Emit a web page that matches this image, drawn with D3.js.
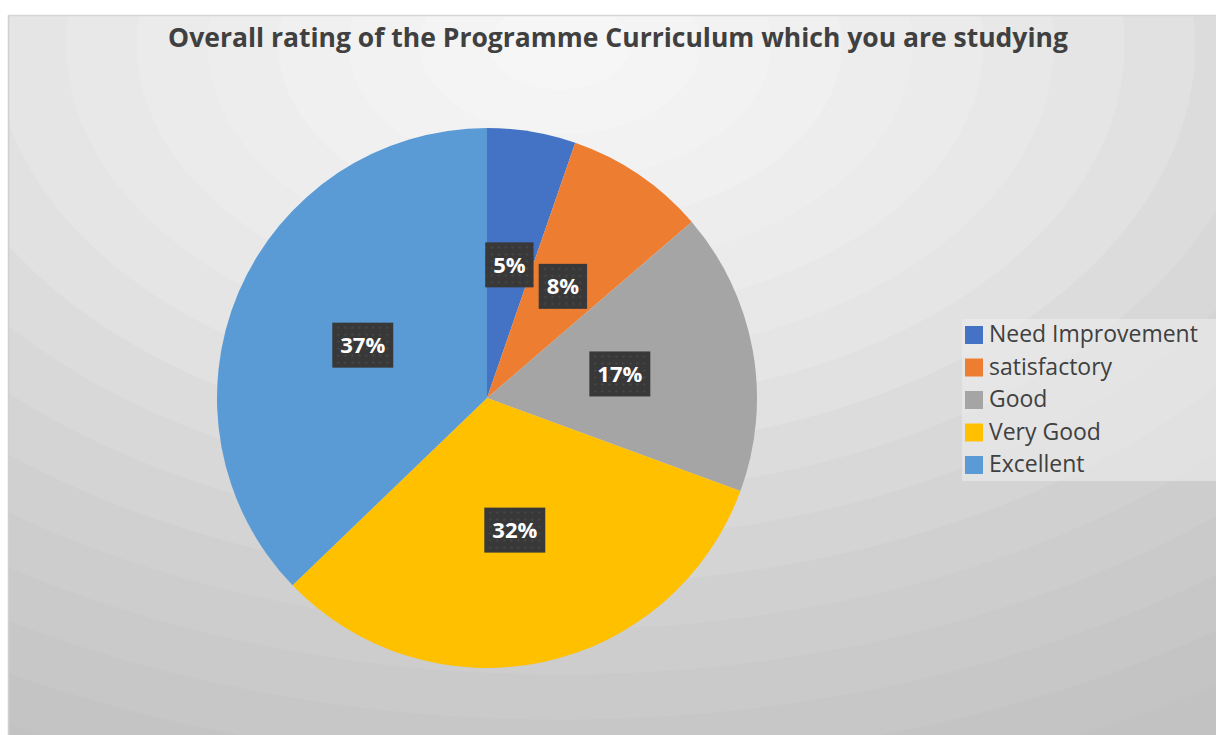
<!DOCTYPE html>
<html>
<head>
<meta charset="utf-8">
<script src="https://cdn.jsdelivr.net/npm/d3@7"></script>
<style>
  html, body { margin: 0; padding: 0; background: #ffffff; }
  svg { display: block; }
</style>
</head>
<body>
<svg id="chart" width="1216" height="735"></svg>
<script>
// ---- data ----
const categories = ["Need Improvement", "satisfactory", "Good", "Very Good", "Excellent"];
const values = [5.3, 8.4, 16.9, 32.2, 37.2];
const colors = ["#4472C4", "#ED7D31", "#A5A5A5", "#FFC000", "#5B9BD5"];
const title = "Overall rating of the Programme Curriculum which you are studying";

const W = 1216, H = 735;
const svg = d3.select("#chart");
const defs = svg.append("defs");

// background elliptical radial gradient with subtle banding
const keyStops = [
  [0, 247], [120, 242], [240, 235], [360, 227], [480, 215],
  [600, 205], [720, 197], [840, 191], [1000, 188]
];
const grayAt = d => {
  for (let i = 0; i < keyStops.length - 1; i++) {
    const a = keyStops[i], b = keyStops[i + 1];
    if (d <= b[0]) return a[1] + (b[1] - a[1]) * (d - a[0]) / (b[0] - a[0]);
  }
  return keyStops[keyStops.length - 1][1];
};
const bgR = 1000, step = 45;
const rg = defs.append("radialGradient").attr("id", "bg")
  .attr("gradientUnits", "userSpaceOnUse")
  .attr("cx", 0).attr("cy", 0).attr("r", bgR).attr("fx", 0).attr("fy", 0)
  .attr("gradientTransform", "translate(560,45) scale(1.57,1)");
for (let d = 0; d < bgR; d += step) {
  const v = Math.round(grayAt(d + step / 2));
  const c = d3.rgb(v, v, v).formatHex();
  rg.append("stop").attr("offset", d / bgR).attr("stop-color", c);
  rg.append("stop").attr("offset", Math.min(1, (d + step - 1) / bgR)).attr("stop-color", c);
}

// dotted pattern for label boxes
const pat = defs.append("pattern").attr("id", "dots")
  .attr("patternUnits", "userSpaceOnUse").attr("width", 7).attr("height", 7);
pat.append("rect").attr("width", 7).attr("height", 7).attr("fill", "#383838");
pat.append("circle").attr("cx", 3.5).attr("cy", 3.5).attr("r", 1.1).attr("fill", "#4a4a4a");

// chart area
svg.append("rect").attr("x", 8).attr("y", 15).attr("width", W - 8).attr("height", H - 15)
  .attr("fill", "url(#bg)");
svg.append("line").attr("x1", 8).attr("x2", W).attr("y1", 15.5).attr("y2", 15.5)
  .attr("stroke", "#d6d6d6").attr("stroke-width", 1.5);
svg.append("line").attr("x1", 8.5).attr("x2", 8.5).attr("y1", 15).attr("y2", H)
  .attr("stroke", "#d0d0d0").attr("stroke-width", 1.5);

// title
const titleText = svg.append("text")
  .attr("x", 618).attr("y", 47)
  .attr("text-anchor", "middle")
  .attr("font-family", "'Open Sans', sans-serif")
  .attr("font-weight", "bold")
  .attr("font-size", 23)
  .attr("fill", "#404040")
  .text(title);
(function fit(){
  const w = titleText.node().getComputedTextLength();
  titleText.attr("font-size", (23 * 900 / w).toFixed(2));
})();

// pie
const cx = 487, cy = 398, R = 270;
const pie = d3.pie().sort(null).value(d => d.v);
const data = categories.map((c, i) => ({ c, v: values[i], col: colors[i] }));
const arcs = pie(data);
const arc = d3.arc().innerRadius(0).outerRadius(R);

const g = svg.append("g").attr("transform", `translate(${cx},${cy})`);
g.selectAll("path.slice").data(arcs).enter().append("path")
  .attr("class", "slice")
  .attr("d", arc)
  .attr("fill", d => d.data.col);

// labels
const total = d3.sum(values);
const lab = g.selectAll("g.lab").data(arcs).enter().append("g")
  .attr("class", "lab")
  .attr("transform", d => `translate(${arc.centroid(d)})`);
const probe = svg.append("text").attr("font-family", "'Open Sans', sans-serif")
  .attr("font-weight", "bold").attr("font-size", 20).text("37%");
const labFs = 20 * 45 / probe.node().getComputedTextLength();
probe.remove();
lab.each(function(d) {
  const gg = d3.select(this);
  const rect = gg.append("rect");
  const t = gg.append("text")
    .attr("text-anchor", "middle")
    .attr("y", labFs * 0.36)
    .attr("font-family", "'Open Sans', sans-serif")
    .attr("font-weight", "bold")
    .attr("font-size", labFs)
    .attr("fill", "#ffffff")
    .text(Math.round(d.data.v / total * 100) + "%");
  const tw = t.node().getComputedTextLength();
  const bw = tw + 16, bh = 45;
  rect.attr("x", -bw / 2).attr("y", -bh / 2).attr("width", bw).attr("height", bh)
    .attr("fill", "url(#dots)");
});

// legend
const legX = 965, legY = 322;
svg.append("rect").attr("x", legX - 3).attr("y", legY - 3).attr("width", W - legX + 3).attr("height", 162)
  .attr("fill", "#ececec").attr("opacity", 0.6);
const items = svg.append("g").selectAll("g").data(data).enter().append("g")
  .attr("transform", (d, i) => `translate(${legX},${legY + 4 + i * 32.5})`);
items.append("rect").attr("width", 18).attr("height", 18).attr("fill", d => d.col);
const legTexts = items.append("text")
  .attr("x", 24).attr("y", 16)
  .attr("font-family", "'Open Sans', sans-serif")
  .attr("font-size", 20)
  .attr("fill", "#404040")
  .text(d => d.c);
(function(){
  const w = legTexts.filter((d, i) => i === 0).node().getComputedTextLength();
  legTexts.attr("font-size", (20 * 209 / w).toFixed(2));
})();
</script>
</body>
</html>
